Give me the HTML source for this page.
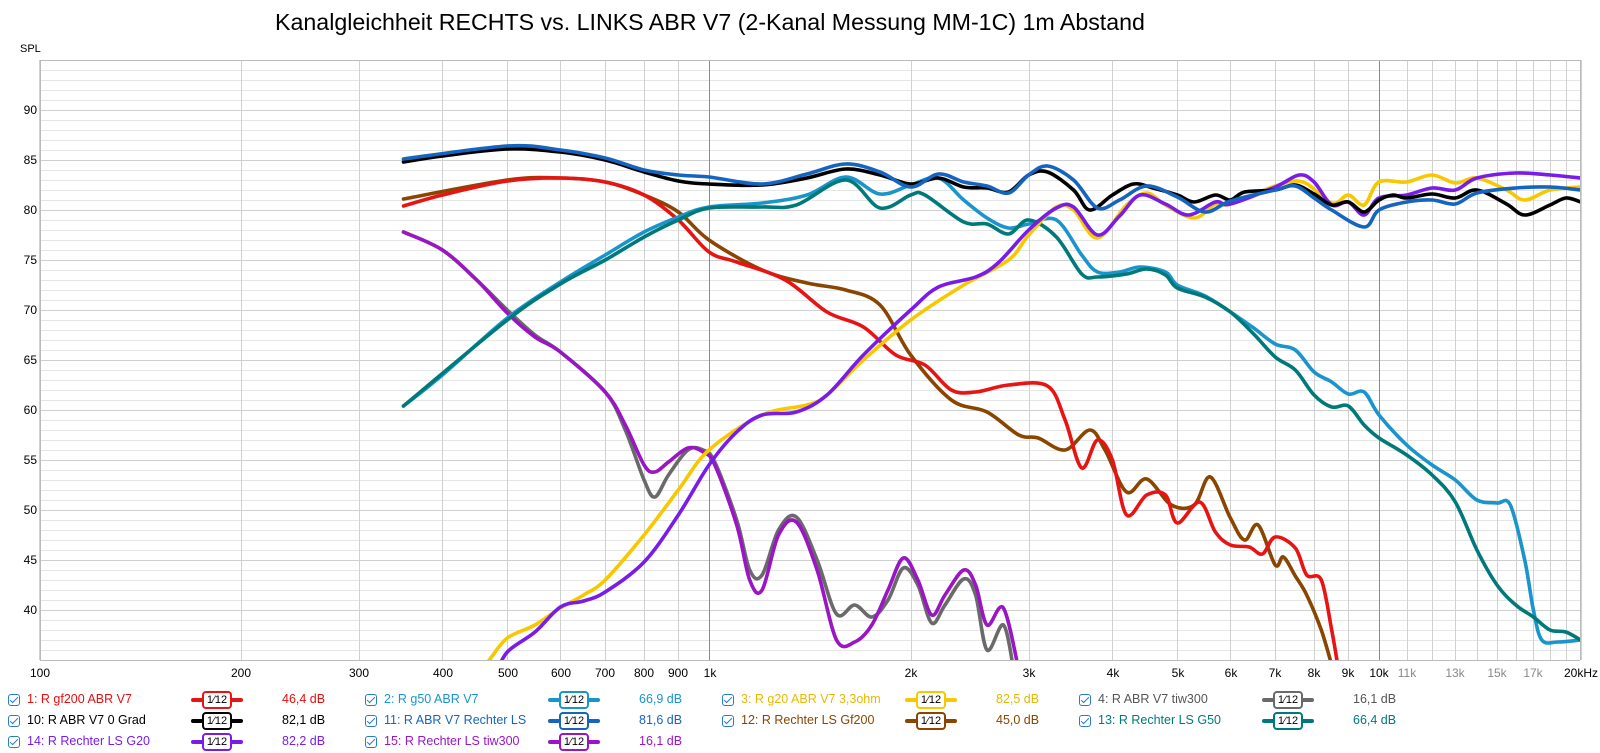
<!DOCTYPE html>
<html><head><meta charset="utf-8"><style>
body{margin:0;background:#fff;width:1600px;height:753px;overflow:hidden;font-family:"Liberation Sans",sans-serif;position:relative}
.t{position:absolute;font-size:12.5px;white-space:nowrap}
.cb{position:absolute;width:12px;height:12px;border:1px solid #2a7bd0;border-radius:3px;box-sizing:border-box}
.cb:after{content:"";position:absolute;left:3px;top:0px;width:3px;height:7px;border:solid #2a7bd0;border-width:0 1.5px 1.5px 0;transform:rotate(45deg)}
.sw{position:absolute;height:4px;width:52px;border-radius:2px}
.bx{position:absolute;width:30px;height:18px;background:#fff;border:2px solid;border-radius:4px;box-sizing:border-box;font-size:11px;color:#000;text-align:center;line-height:15px}
</style></head><body>
<svg id="s" width="1600" height="753" style="position:absolute;left:0;top:0" font-family="Liberation Sans, sans-serif">
<text x="710" y="30" font-size="23.2" text-anchor="middle" fill="#000">Kanalgleichheit RECHTS vs. LINKS ABR V7 (2-Kanal Messung MM-1C) 1m Abstand</text>
<text x="20" y="52" font-size="11" fill="#000">SPL</text>
<g id="grid"></g>
<g font-size="12" fill="#000" text-anchor="end">
<text x="37" y="114">90</text><text x="37" y="164">85</text><text x="37" y="214">80</text><text x="37" y="264">75</text><text x="37" y="314">70</text><text x="37" y="364">65</text><text x="37" y="414">60</text><text x="37" y="464">55</text><text x="37" y="514">50</text><text x="37" y="564">45</text><text x="37" y="614">40</text>
</g>
<g font-size="12" fill="#000" text-anchor="middle">
<text x="40" y="677">100</text><text x="241" y="677">200</text><text x="359" y="677">300</text><text x="443" y="677">400</text><text x="508" y="677">500</text><text x="561" y="677">600</text><text x="605" y="677">700</text><text x="644" y="677">800</text><text x="678" y="677">900</text><text x="710" y="677">1k</text>
<text x="911" y="677">2k</text><text x="1029" y="677">3k</text><text x="1113" y="677">4k</text><text x="1178" y="677">5k</text><text x="1231" y="677">6k</text><text x="1275" y="677">7k</text><text x="1314" y="677">8k</text><text x="1348" y="677">9k</text><text x="1379" y="677">10k</text>
<text x="1407" y="677" fill="#888">11k</text><text x="1455" y="677" fill="#888">13k</text><text x="1497" y="677" fill="#888">15k</text><text x="1533" y="677" fill="#888">17k</text><text x="1581" y="677">20kHz</text>
</g>
<defs><clipPath id="cp"><rect x="40" y="60" width="1540" height="600"/></clipPath></defs>
<g id="curves" clip-path="url(#cp)" fill="none" stroke-width="3.6" stroke-linejoin="round" stroke-linecap="round"></g>
</svg>

<div class="cb" style="left:8px;top:694px"></div><div class="t" style="left:27px;top:692px;color:#e01010">1: R gf200 ABR V7</div>
<div class="sw" style="left:191px;top:698px;background:#e81414"></div><div class="bx" style="left:202px;top:691px;border-color:#e81414">1⁄12</div>
<div class="t" style="left:282px;top:692px;color:#e01010">46,4 dB</div>
<div class="cb" style="left:8px;top:715px"></div><div class="t" style="left:27px;top:713px;color:#000">10: R ABR V7 0 Grad</div>
<div class="sw" style="left:191px;top:719px;background:#000"></div><div class="bx" style="left:202px;top:712px;border-color:#000">1⁄12</div>
<div class="t" style="left:282px;top:713px;color:#000">82,1 dB</div>
<div class="cb" style="left:8px;top:736px"></div><div class="t" style="left:27px;top:734px;color:#7a1ce8">14: R Rechter LS G20</div>
<div class="sw" style="left:191px;top:740px;background:#7a1ce8"></div><div class="bx" style="left:202px;top:733px;border-color:#7a1ce8">1⁄12</div>
<div class="t" style="left:282px;top:734px;color:#7a1ce8">82,2 dB</div>

<div class="cb" style="left:365px;top:694px"></div><div class="t" style="left:384px;top:692px;color:#1a95cc">2: R g50 ABR V7</div>
<div class="sw" style="left:548px;top:698px;background:#1a95cc"></div><div class="bx" style="left:559px;top:691px;border-color:#1a95cc">1⁄12</div>
<div class="t" style="left:639px;top:692px;color:#1a95cc">66,9 dB</div>
<div class="cb" style="left:365px;top:715px"></div><div class="t" style="left:384px;top:713px;color:#1565c0">11: R ABR V7 Rechter LS</div>
<div class="sw" style="left:548px;top:719px;background:#1565c0"></div><div class="bx" style="left:559px;top:712px;border-color:#1565c0">1⁄12</div>
<div class="t" style="left:639px;top:713px;color:#1565c0">81,6 dB</div>
<div class="cb" style="left:365px;top:736px"></div><div class="t" style="left:384px;top:734px;color:#9a16c4">15: R Rechter LS tiw300</div>
<div class="sw" style="left:548px;top:740px;background:#9a16c4"></div><div class="bx" style="left:559px;top:733px;border-color:#9a16c4">1⁄12</div>
<div class="t" style="left:639px;top:734px;color:#9a16c4">16,1 dB</div>

<div class="cb" style="left:722px;top:694px"></div><div class="t" style="left:741px;top:692px;color:#e8b800">3: R g20 ABR V7 3,3ohm</div>
<div class="sw" style="left:905px;top:698px;background:#f7c800"></div><div class="bx" style="left:916px;top:691px;border-color:#f7c800">1⁄12</div>
<div class="t" style="left:996px;top:692px;color:#e8b800">82,5 dB</div>
<div class="cb" style="left:722px;top:715px"></div><div class="t" style="left:741px;top:713px;color:#8a4500">12: R Rechter LS Gf200</div>
<div class="sw" style="left:905px;top:719px;background:#8a4500"></div><div class="bx" style="left:916px;top:712px;border-color:#8a4500">1⁄12</div>
<div class="t" style="left:996px;top:713px;color:#8a4500">45,0 dB</div>

<div class="cb" style="left:1079px;top:694px"></div><div class="t" style="left:1098px;top:692px;color:#555">4: R ABR V7 tiw300</div>
<div class="sw" style="left:1262px;top:698px;background:#6a6a6a"></div><div class="bx" style="left:1273px;top:691px;border-color:#6a6a6a">1⁄12</div>
<div class="t" style="left:1353px;top:692px;color:#555">16,1 dB</div>
<div class="cb" style="left:1079px;top:715px"></div><div class="t" style="left:1098px;top:713px;color:#00797a">13: R Rechter LS G50</div>
<div class="sw" style="left:1262px;top:719px;background:#00797a"></div><div class="bx" style="left:1273px;top:712px;border-color:#00797a">1⁄12</div>
<div class="t" style="left:1353px;top:713px;color:#00797a">66,4 dB</div>

<script>
const NS="http://www.w3.org/2000/svg";
const X=f=>709+670*Math.log10(f/1000), Y=d=>110+(90-d)*10;
const g=document.getElementById('grid');
function ln(x1,y1,x2,y2,c,w){const l=document.createElementNS(NS,'line');l.setAttribute('x1',x1);l.setAttribute('y1',y1);l.setAttribute('x2',x2);l.setAttribute('y2',y2);l.setAttribute('stroke',c);l.setAttribute('stroke-width',w||1);g.appendChild(l);}
for(let d=36;d<=95;d++){ln(40,Y(d)+.5,1580,Y(d)+.5,d%5==0?'#cfcfcf':'#e6e6e6');}
let fs=[];for(let k=100;k<1000;k+=100)fs.push(k);for(let k=1000;k<10000;k+=1000)fs.push(k);for(let k=10000;k<=20000;k+=1000)fs.push(k);
fs.forEach(f=>{let x=Math.round(X(f))+.5;let c=(f==1000||f==10000)?'#8a8a8a':'#d0d0d0';ln(x,60,x,660,c);});
ln(40.5,60,40.5,660,'#bbb');ln(1580.5,60,1580.5,660,'#bbb');ln(40,60.5,1580,60.5,'#bbb');ln(40,660.5,1580,660.5,'#bbb');
function P(s){return s.trim().split(/\s*,\s*/).map(p=>{let [f,d]=p.trim().split(/\s+/);f=f.endsWith('k')?parseFloat(f)*1000:parseFloat(f);return [X(f),Y(parseFloat(d))];});}
function path(pts){let d='M'+pts[0][0].toFixed(1)+' '+pts[0][1].toFixed(1);for(let i=0;i<pts.length-1;i++){let p0=pts[i-1]||pts[i],p1=pts[i],p2=pts[i+1],p3=pts[i+2]||p2;let c1=[p1[0]+(p2[0]-p0[0])/6,p1[1]+(p2[1]-p0[1])/6],c2=[p2[0]-(p3[0]-p1[0])/6,p2[1]-(p3[1]-p1[1])/6];d+=`C${c1[0].toFixed(1)} ${c1[1].toFixed(1)} ${c2[0].toFixed(1)} ${c2[1].toFixed(1)} ${p2[0].toFixed(1)} ${p2[1].toFixed(1)}`;}return d;}
const S=[
['#6a6a6a','350 77.8,400 76,450 73,500 70,550 67.5,600 65.8,700 61.8,750 58,800 53,830 51.3,870 53.5,930 56,980 56,1.02k 54.8,1.1k 49,1.15k 44,1.2k 43.5,1.27k 48,1.35k 49.3,1.45k 45,1.55k 39.6,1.65k 40.5,1.75k 39.3,1.85k 41,1.95k 44.2,2.05k 42.5,2.15k 38.7,2.25k 40.5,2.4k 43.1,2.5k 41.5,2.6k 36,2.75k 38.5,2.85k 34'],
['#9a16c4','350 77.8,400 76,450 73,500 69.7,550 67.3,600 65.8,700 61.8,750 58.5,800 54.5,830 53.8,870 54.8,930 56.2,980 55.8,1.02k 54.5,1.1k 48.5,1.15k 43,1.2k 42,1.27k 47.5,1.35k 48.8,1.45k 44,1.55k 37,1.65k 36.8,1.75k 38.5,1.85k 42,1.95k 45.2,2.05k 43,2.15k 39.5,2.25k 41.5,2.4k 44,2.5k 42.5,2.6k 38.5,2.75k 40.2,2.9k 34'],
['#8a4500','350 81.1,500 83,600 83.2,700 82.8,800 81.5,900 79.8,1k 77,1.2k 74,1.4k 72.7,1.6k 72,1.8k 70.5,2k 65.5,2.3k 61,2.6k 59.8,2.9k 57.5,3.1k 57.2,3.4k 56,3.7k 58,3.9k 56,4.2k 51.8,4.5k 53.1,4.9k 50.5,5.3k 50.5,5.6k 53.3,6k 49.2,6.3k 47,6.6k 48.5,7k 44.5,7.2k 45.3,7.5k 43.4,7.8k 41.5,8.2k 38,8.5k 34.5'],
['#e81414','350 80.4,400 81.5,500 82.9,600 83.2,700 82.8,800 81.5,900 79,1k 75.8,1.1k 74.8,1.3k 73,1.5k 69.8,1.7k 68.3,1.9k 65.5,2.1k 64.5,2.3k 62,2.5k 61.8,2.8k 62.5,3.2k 62.4,3.4k 59,3.6k 54.2,3.8k 57,4k 55,4.2k 49.5,4.5k 51.5,4.8k 51.5,5k 48.7,5.4k 50.8,5.7k 47.8,6k 46.5,6.4k 46.3,6.7k 45.6,7k 47.3,7.5k 46.2,7.8k 43.5,8.2k 43,8.5k 38,8.7k 34'],
['#1a95cc','350 60.4,400 63.5,500 69.2,600 72.8,700 75.5,800 77.8,900 79.3,1k 80.3,1.2k 80.7,1.4k 81.5,1.6k 83.3,1.8k 81.6,2k 82.5,2.2k 83.2,2.4k 81,2.6k 79.2,2.8k 78.2,3k 78.6,3.3k 79,3.6k 75.5,3.8k 73.8,4.1k 73.8,4.4k 74.3,4.8k 73.8,5k 72.5,5.5k 71.4,6k 69.8,6.5k 68.2,7k 66.6,7.5k 66,8k 63.8,8.5k 62.8,9k 61.6,9.5k 61.8,10k 59.5,11k 56.5,12k 54.5,13k 53,14k 51,15k 50.7,15.7k 50.5,16.5k 45,17k 40,17.5k 37,18.5k 36.8,20k 37'],
['#00797a','350 60.4,500 69,600 72.6,700 75,800 77.3,900 79,1k 80.2,1.2k 80.3,1.35k 80.5,1.6k 83,1.8k 80.2,2k 81.5,2.1k 81.5,2.4k 78.8,2.6k 78.6,2.8k 77.6,3k 79,3.3k 77.3,3.6k 73.6,3.8k 73.3,4.2k 73.6,4.5k 74.1,4.8k 73.5,5k 72.2,5.5k 71.3,6k 69.8,6.5k 67.6,7k 65.3,7.5k 64,8k 61.5,8.5k 60.3,9k 60.4,9.5k 58.5,10k 57.2,11k 55.5,12k 53.5,13k 50.8,14k 46,15k 42.5,16k 40.5,17k 39.3,18k 38,19k 37.8,20k 37'],
['#f7c800','450 33.5,470 35,500 37.2,550 38.5,600 40.2,650 41.5,700 43,800 47.5,900 52,1k 56,1.2k 59.5,1.4k 60.5,1.5k 61.5,1.7k 65,2k 69,2.4k 72.5,2.8k 75,3k 77.5,3.3k 80.3,3.5k 80,3.8k 77.2,4.2k 80.5,4.5k 81.7,4.8k 80.5,5.3k 79.2,5.7k 80.6,6k 80.6,7k 82.4,7.7k 82.8,8.5k 80.7,9k 81.5,9.5k 80.5,10k 82.8,11k 82.8,12k 83.5,13k 82.7,14k 83.2,15.5k 82,16.5k 81,18k 82,20k 82.3'],
['#7a1ce8','480 33.5,500 35.8,550 37.8,600 40.3,650 40.9,700 41.8,800 44.8,900 49.5,1k 54.5,1.1k 57.8,1.2k 59.5,1.35k 59.8,1.5k 61.5,1.7k 65.5,2k 70,2.2k 72.3,2.5k 73.3,2.7k 74.7,3k 78,3.3k 80.2,3.5k 80.3,3.8k 77.5,4.1k 79.4,4.4k 81.5,4.8k 80.6,5.2k 79.5,5.7k 80.8,6k 80.6,7k 82.3,7.6k 83.5,8k 82.8,8.5k 80.5,9k 80.8,9.5k 79.5,10k 81.2,11k 81.5,12k 82.2,13k 82,14k 83.2,16k 83.7,18k 83.5,20k 83.2'],
['#000','350 84.8,400 85.4,500 86.1,600 85.8,700 85,800 83.8,900 82.9,1k 82.6,1.2k 82.5,1.4k 83.2,1.6k 84.1,1.8k 83.5,2k 82.6,2.2k 83.2,2.4k 82.3,2.6k 82.2,2.8k 81.8,3k 83.5,3.2k 83.8,3.5k 82,3.7k 80,4k 81.5,4.3k 82.6,4.6k 82.2,5k 81.5,5.3k 80.8,5.7k 81.5,6k 81,6.3k 81.8,7k 82,7.5k 82.5,8k 81.6,8.5k 80.5,9k 80.8,9.5k 79.8,10k 81,10.5k 81.5,11k 81.2,12k 81.6,13k 81.2,14k 82,15.5k 80.6,16.5k 79.5,18k 80.5,19k 81.2,20k 80.8'],
['#1565c0','350 85.1,500 86.4,600 86,700 85.2,800 84,900 83.5,1k 83.3,1.2k 82.6,1.4k 83.6,1.6k 84.6,1.8k 83.8,2k 82.3,2.2k 83.6,2.4k 82.8,2.6k 82.4,2.8k 81.7,3k 83.5,3.2k 84.4,3.5k 83,3.8k 80.2,4.1k 81,4.5k 82.4,5k 81.3,5.5k 79.8,6k 80.9,7k 82,7.5k 82.4,8k 81.2,8.5k 80,9.5k 78.3,10k 80,11k 80.8,12k 81,13k 80.6,14k 81.7,16k 82.2,18k 82.3,20k 82']
];
const cg=document.getElementById('curves');
S.forEach(([c,s])=>{const p=document.createElementNS(NS,'path');p.setAttribute('d',path(P(s)));p.setAttribute('stroke',c);cg.appendChild(p);});
</script>
</body></html>
